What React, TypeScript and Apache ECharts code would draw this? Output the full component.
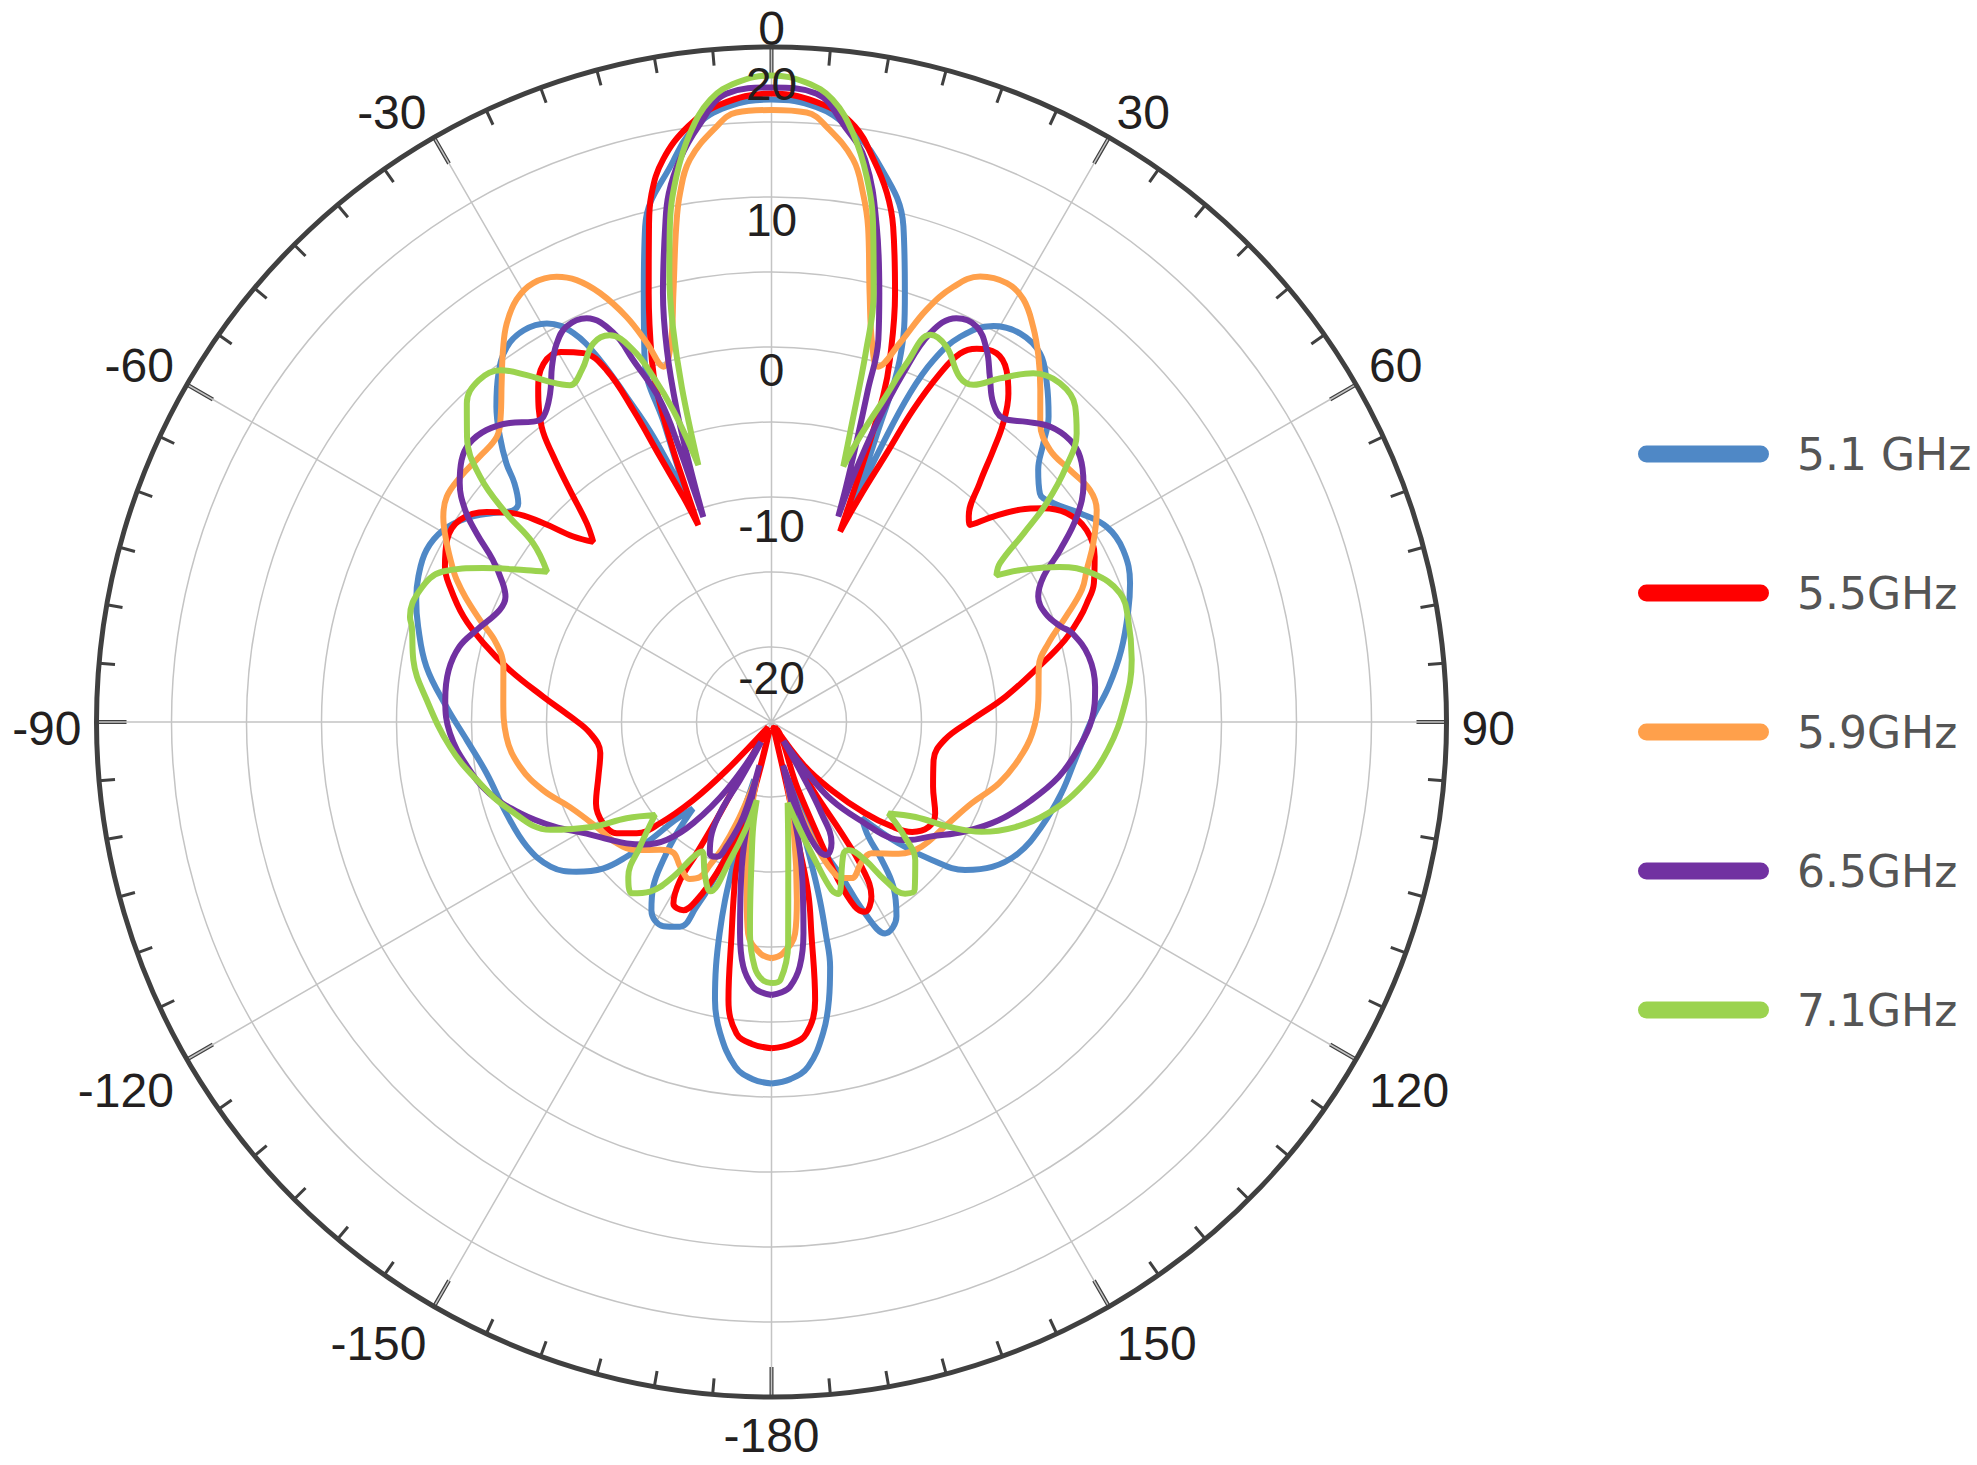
import React, { useEffect, useRef } from 'react';
import * as echarts from 'echarts';

// Series names and colours (legend order)
const seriesNames = ['5.1 GHz', '5.5GHz', '5.9GHz', '6.5GHz', '7.1GHz'];
const seriesColors = ['#4f88c6', '#ff0000', '#ffa04b', '#7131a1', '#9bd34f'];

// Each series: [angle in degrees (-180..180, clockwise from top), gain in dB]
const ghz51: [number, number][] = [
  [-180, -0.9], [-177, -1.15], [-174, -1.9], [-170.6, -4.0], [-168.5, -6.1], [-167.2, -8.3], [-166.2, -10.5], [-165.4, -12.7],
  [-165, -15], [-164.3, -18], [-163.2, -21], [-161.6, -16.2], [-159.8, -13.8], [-157.9, -11.7], [-155.9, -10.05],
  [-152.1, -9.6], [-147.5, -10.1], [-144.3, -11.5], [-141.9, -13.3], [-139.6, -15.25], [-137.8, -17.2],
  [-135.5, -15.8], [-134.2, -13.7], [-132.9, -11.8], [-131, -10.1], [-127.5, -8.6], [-123.2, -7.4], [-117, -6.7],
  [-109, -6.3], [-100.2, -5.7], [-93.4, -4.65], [-87.3, -3.3], [-80.9, -1.7], [-74.9, -0.6], [-71, 0.05],
  [-67.6, 0.46], [-63.5, 0.7], [-59.7, 0.35], [-56.2, -0.56], [-53.1, -1.8], [-51.2, -2.6], [-49.2, -2.7],
  [-47.1, -1.6], [-45.7, -0.3], [-43.6, 1.25], [-41.1, 2.9], [-38.1, 4.5], [-35.2, 5.6], [-32.3, 5.9],
  [-29.4, 5.5], [-27, 4.1], [-25.35, 1.7], [-24, -1.3], [-22.5, -4.4], [-20.6, -9.5], [-20.2, -7], [-19.8, -4],
  [-19.3, 0.6], [-16.6, 4.8], [-14.3, 9.1], [-9.9, 13.0], [-7.3, 15], [-4.2, 16.1], [0, 16.5],
  [4.2, 16.1], [7.3, 15], [10.6, 13.1], [14.9, 9.2], [17.3, 4.9], [19.5, 0.6], [20.1, -4.3], [20.6, -9.5],
  [21.8, -5], [22.85, -1.2], [24.1, 1.4], [26.1, 3.6], [29.25, 5.26], [32.6, 5.75], [36.1, 5.4], [39.1, 4.1],
  [42.2, 2.5], [44.3, 0.95], [46.6, -0.53], [49.6, -1.5], [52.2, -1.2], [55.9, -0.17], [59.8, 0.86],
  [63.95, 1.1], [68.85, 0.63], [72.6, -0.07], [78.4, -1.2], [84, -2.4], [89.6, -3.65], [97.1, -4.6],
  [103.8, -5.1], [111.2, -5.7], [118, -6.36], [123.3, -7.4], [127.4, -8.76], [130.7, -10.9], [133.7, -13.3],
  [136.8, -16.2], [139.8, -15], [141.4, -13.2], [143.5, -11.35], [147.25, -9.6], [151.75, -9.0],
  [153.95, -10.8], [155.65, -13.7], [158.5, -16], [160.6, -17.6], [162.8, -21], [164.3, -15], [164.8, -12.7],
  [165.6, -10.5], [166.55, -8.2], [168.3, -6.1], [170.55, -4.0], [173.9, -1.9], [177, -1.15], [180, -0.9],
];

const ghz55: [number, number][] = [
  [-180, -3.25], [-176.5, -3.5], [-173.6, -4.1], [-171.2, -6.25], [-169.3, -10.7], [-167.5, -13.5], [-166.5, -15.1],
  [-166.2, -24.5], [-165.7, -20.1], [-163.1, -17], [-160.1, -14.3], [-157.2, -12.1], [-154.9, -11.15],
  [-151.6, -11.25], [-150, -12.8], [-150.3, -14.9], [-150.6, -17.5], [-150.2, -20.8], [-146, -24.6],
  [-137, -20.6], [-134.9, -17.6], [-132.25, -14.96], [-129.5, -13.35], [-125.7, -12.3], [-121, -11.9],
  [-114.9, -12.1], [-107.5, -12.9], [-100.3, -13.4], [-93.6, -12.9], [-88.5, -11.6], [-83.7, -9.7],
  [-78.75, -7.2], [-74.7, -5.1], [-71.1, -3.3], [-67.2, -1.75], [-64.6, -0.9], [-60.7, -0.2], [-57, -0.25],
  [-53.6, -1.4], [-51, -2.9], [-48.95, -4.8], [-46.9, -6.9], [-44.7, -8.1], [-42.9, -6.9], [-41, -4.5],
  [-39.4, -2.1], [-37.9, -0.05], [-35.1, 2.05], [-32.5, 3.3], [-29.7, 3.4], [-27, 2.6], [-25.1, 0.9],
  [-23.9, -2.25], [-22.8, -5.8], [-21.4, -8.9], [-20.4, -11], [-20.1, -8], [-19.8, -5.2], [-19.1, -1.6],
  [-18.3, 0.4], [-16, 4.7], [-13.9, 9], [-12.8, 11.1], [-10.9, 13.2], [-7.95, 15.1], [-4.8, 16.3], [0, 16.9],
  [4.8, 16.3], [7.95, 15.1], [10.3, 13.1], [12.3, 11.1], [13.8, 9], [16.1, 4.7], [18.1, 0.4], [18.9, -2],
  [19.4, -6], [19.8, -11.5], [21.4, -8.9], [23.2, -5.5], [24.4, -2.15], [25.8, 0.8], [27.1, 2.6], [28.8, 3.4],
  [31.4, 3.8], [33.75, 3.2], [35.8, 2], [37.8, 0.2], [39.2, -1.6], [41.1, -3.9], [43.8, -6], [45.2, -6.35],
  [47.2, -4.85], [49.5, -3.2], [51.8, -1.95], [54.7, -0.9], [58.65, -0.4], [62.9, -0.8], [66.7, -1.6],
  [69.4, -2.55], [71.3, -3.3], [74.4, -4.7], [78.3, -6.8], [83.8, -9.3], [89.4, -11.65], [95.9, -13.4],
  [103.2, -13.9], [111.8, -13.4], [119.2, -12.5], [123.7, -12.4], [128, -13.1], [131, -14.4], [134.3, -16.3],
  [138.5, -18.9], [143.1, -21.3], [146, -24.6], [148.6, -19.4], [147.8, -16.2], [148.1, -13.6], [150.2, -11.6],
  [153.8, -10.9], [155.7, -11.5], [157.1, -13.6], [157.8, -17], [158.5, -20.3], [161, -24.6], [165.5, -24.6],
  [166.7, -20.1], [167.5, -16.7], [167.9, -13.3], [169.3, -10.7], [171.1, -6.2], [173.6, -4.1], [176.5, -3.5], [180, -3.25],
];

const ghz59: [number, number][] = [
  [-180, -9.25], [-177.2, -9.56], [-173.7, -10.8], [-172.1, -13], [-168.5, -17.5], [-165, -21.2],
  [-163.2, -20], [-161, -17.9], [-158.9, -16.1], [-156.7, -14.6], [-155.2, -13.6], [-152.5, -13.2],
  [-147.7, -13.6], [-143.2, -14.1], [-138.9, -13.7], [-133.5, -12.6], [-128.1, -11.9], [-120.9, -11.4],
  [-112.8, -10.4], [-106.6, -9.1], [-100.1, -7.97], [-93.2, -7.3], [-85.3, -7.06], [-78.35, -6.75],
  [-74, -5.9], [-70.7, -4.4], [-67.9, -3], [-65.7, -1.97], [-64.5, -1.5], [-61.2, -0.3], [-58, 0.8],
  [-55.25, 1.35], [-51.8, 1.4], [-47.7, 1.3], [-43.9, 1.4], [-41.6, 2.2], [-38.5, 3.9], [-35.8, 5.6],
  [-33.6, 6.9], [-31.1, 7.9], [-28.5, 8.3], [-25.75, 7.96], [-23.8, 7.2], [-21.8, 5.8], [-19.7, 3.7],
  [-18.2, 1.6], [-16.9, -0.24], [-14.9, 1.1], [-12.9, 4.3], [-10.9, 8.6], [-9.8, 10.8], [-8.25, 12.9],
  [-5.3, 14.85], [-3.3, 15.7], [0, 15.8],
  [3.3, 15.7], [5.3, 14.85], [8.25, 12.9], [9.8, 10.8], [11.05, 8.6], [12.9, 4.3], [14.9, 1.1], [16.7, -0.27],
  [18.7, 1.66], [20.6, 4.35], [22.7, 6.45], [25.1, 7.8], [28.2, 8.2], [30.8, 7.8], [33.5, 6.6], [36.1, 5.2],
  [38.96, 3.5], [41.95, 1.8], [45.7, 0.95], [49.8, 1.04], [53.9, 1.27], [56.9, 0.88], [60.95, -0.46],
  [64.25, -1.67], [66.9, -2.5], [70.3, -4.15], [74.1, -5.8], [78.3, -6.8], [85.3, -7.15], [92.5, -7.6],
  [98.75, -8.35], [105.1, -9.3], [112.1, -10.6], [121.1, -11.5], [129.7, -12], [136, -12.8], [142.65, -14],
  [147.15, -13.9], [152.8, -13.3], [155.8, -13.6], [157.9, -14.35], [159.9, -15.9], [161.7, -17.9],
  [164.2, -20.1], [165, -21.2], [168.5, -17.5], [171.9, -13], [173.65, -10.8], [177.2, -9.56], [180, -9.25],
];

const ghz65: [number, number][] = [
  [-180, -6.8], [-178, -6.95], [-176, -7.3], [-173.4, -8.6], [-171.5, -10.8], [-168.4, -15.15], [-166, -19], [-164.5, -22],
  [-163.4, -18.4], [-160.2, -16.2], [-157.9, -15.3], [-154.9, -15.3], [-151.75, -16.6], [-150.4, -18.5],
  [-151.5, -20.6], [-152.5, -23.5], [-146.6, -19.6], [-142.3, -16.5], [-138.4, -14.5], [-133.8, -13.2],
  [-129.95, -12.4], [-126.2, -11.7], [-121.1, -10.6], [-115.6, -8.9], [-110, -7.2], [-104.2, -5.6],
  [-98.3, -4.5], [-92, -3.55], [-86.1, -3.2], [-80.9, -3.2], [-76.4, -3.6], [-72.7, -4.4], [-67.6, -5.4],
  [-64.8, -5.4], [-62.6, -4.8], [-59.8, -3.5], [-57.4, -1.67], [-55.3, -0.15], [-52.5, 1.2], [-49.8, 2.05],
  [-47.3, 2.4], [-44.3, 2.2], [-41.2, 1.5], [-38.4, 0.55], [-36.8, 0.4], [-34, 1.4], [-31.7, 2.85],
  [-29.6, 4], [-27.4, 4.7], [-24.6, 4.6], [-22.1, 3], [-20.9, 0.8], [-19.1, -2.3], [-18.6, -5.9],
  [-18.5, -8.7], [-18.4, -10.6], [-17.7, -7.1], [-16.9, -3.3], [-15.7, 0.77], [-14.2, 4.5], [-12.1, 8.8],
  [-11, 10.9], [-9.25, 13], [-7, 15], [-4.1, 17], [0, 17.3],
  [4.1, 17], [7, 15], [9.45, 13], [12, 8.75], [14.1, 4.5], [15.6, 1.5], [16.2, -2], [16.9, -5.5], [17.6, -8.6],
  [18, -10.6], [18.4, -7.8], [19.4, -3.9], [20.7, -0.15], [22.2, 3], [24.6, 4.6], [27.4, 4.7], [30.05, 3.65],
  [32.3, 2.24], [34.8, 0.9], [37.35, 0.47], [40.4, 1.27], [43.3, 2.06], [46.6, 2.37], [49.3, 2.13],
  [52.6, 1.18], [56.1, -0.48], [59.2, -2.6], [61.9, -4.45], [64.8, -5.35], [68.4, -5.35], [71.7, -4.7],
  [73.5, -4.1], [78.35, -3.4], [83.8, -3.3], [89.6, -3.65], [95.2, -4.5], [100.8, -5.5], [106.7, -6.9],
  [113.4, -8.5], [119.55, -10.2], [125.6, -11.9], [130.8, -12.95], [134.05, -13.85], [137.3, -15.8],
  [142.3, -18.4], [145.1, -21.1], [147.5, -23.5], [149.7, -21], [151.3, -18.1], [153.6, -16], [157.5, -15.4],
  [159.9, -15.9], [162.3, -17.7], [163.8, -21], [165, -22], [166.5, -18.5], [168.3, -15.1], [171.4, -10.75],
  [173.4, -8.6], [176, -7.3], [178, -6.95], [180, -6.8],
];

const ghz71: [number, number][] = [
  [-180, -7.6], [-178, -7.8], [-176.1, -8.6], [-174.2, -10.8], [-173.5, -12.4], [-171.8, -15.7],
  [-170.1, -17.9], [-169.3, -19.7], [-166.7, -17.8], [-163.3, -15.4], [-160.1, -13], [-156.7, -13.8],
  [-151.7, -15.2], [-149.9, -14.6], [-147.6, -12.8], [-144.4, -11.1], [-140.8, -10.26], [-137.2, -10.95],
  [-133.5, -12.9], [-128.6, -15.06], [-123.6, -13.4], [-120.4, -11.2], [-116, -8.6], [-108.6, -6.6],
  [-101.1, -4.97], [-94.4, -3.5], [-86.35, -1.97], [-80.2, -0.77], [-75.2, -0.2], [-73.8, 0.1],
  [-69.4, 0.03], [-65.4, -0.9], [-61.9, -3.2], [-58.2, -5.8], [-56.2, -7], [-53.1, -5.1], [-51.8, -2.5],
  [-49.9, 0.4], [-46.9, 2.8], [-43.7, 4.4], [-40.6, 5], [-37.6, 4.6], [-35.2, 3.3], [-33.1, 2.07],
  [-30.9, 1.17], [-28.3, 1.66], [-25.2, 2.9], [-22.7, 2.95], [-20.4, 1.45], [-18.9, -0.7], [-17.5, -3.2],
  [-16.3, -6.1], [-15.9, -7.2], [-15, -1.9], [-14, 2.2], [-12.9, 5.5], [-11.6, 8.7], [-9.9, 11.9],
  [-7.9, 14.6], [-5.6, 16.7], [-3.1, 17.7], [0, 18.1],
  [3.1, 17.7], [5.6, 16.7], [7.9, 14.6], [9.9, 11.9], [11.6, 8.7], [13.4, 4.4], [14.3, 0.5], [15.2, -5.05],
  [15.7, -7.3], [17.2, -5.1], [19.15, -2.3], [20.65, 0.55], [22.3, 2.9], [25, 2.6], [28.6, 1.2], [30.9, 1.2],
  [33.6, 2.5], [36.9, 4.07], [40.4, 4.66], [43.9, 4.2], [46.6, 3], [49.1, 1], [51.5, -1.57], [53.2, -4],
  [55.2, -6.45], [56.9, -7.1], [58.55, -5.6], [61.7, -3.2], [65.2, -1.4], [69.7, -0.23], [74, -0.26],
  [80.2, -0.63], [87, -1.4], [94.75, -2.5], [101.8, -3.9], [108.3, -5.6], [113.3, -7.3], [117.6, -9.2],
  [120.6, -11.3], [123.4, -13.5], [128, -15.1], [130.7, -13.3], [133.9, -11.7], [139.5, -10.3],
  [142.1, -10.5], [144.3, -12], [145.9, -13.9], [149, -15.05], [151.3, -15], [158.7, -12.7], [160.3, -13.1],
  [162.5, -15.35], [165.6, -17.8], [168.7, -19.5], [173.1, -15.7], [175.7, -10.2], [178, -7.8], [180, -7.6],
];

const seriesData = [ghz51, ghz55, ghz59, ghz65, ghz71];

// Radial axis (dB) and angular axis (degrees)
const radiusMin = -25;
const radiusMax = 20;
const radiusStep = 5;
const radiusLabelValues = [-20, -10, 0, 10, 20];
const angleMin = 0;
const angleMax = 360;
const angleStep = 30;

// polar data items are [radius, angle]; angles mapped to 0..360 for a clockwise axis with 0 at the top
const toPolar = (pts: [number, number][]) =>
  pts.map(([deg, db]) => [db, deg < 0 ? deg + 360 : deg]);

export default function App() {
  const ref = useRef<HTMLDivElement>(null);

  useEffect(() => {
    if (!ref.current) return;
    const chart = echarts.init(ref.current, undefined, { renderer: 'svg' });
    const labelColor = '#231f20';
    const gridColor = '#c4c4c4';
    const frameColor = '#404040';
    const rLabel = { fontSize: 46, color: labelColor, fontFamily: 'Liberation Sans' };
    const aLabel = { fontSize: 48, color: labelColor, fontFamily: 'Liberation Sans' };
    const polarBox = { center: [771.5, 722], radius: 675 };

    chart.setOption({
      animation: false,
      backgroundColor: '#ffffff',
      textStyle: { fontFamily: 'Liberation Sans' },
      // polar 0: grid, frame and curves; polar 1 (same place): radial labels drawn above the curves
      polar: [{ ...polarBox }, { ...polarBox }],
      angleAxis: [
        {
          polarIndex: 0,
          type: 'value',
          min: angleMin,
          max: angleMax,
          interval: angleStep,
          startAngle: 90,
          clockwise: true,
          axisLine: { show: true, lineStyle: { color: frameColor, width: 5 } },
          axisTick: { show: true, inside: true, length: 30, lineStyle: { color: frameColor, width: 4 } },
          minorTick: { show: true, splitNumber: 6, length: 16, lineStyle: { color: frameColor, width: 3 } },
          splitLine: { show: true, lineStyle: { color: gridColor, width: 1.5 } },
          axisLabel: {
            margin: 15,
            ...aLabel,
            lineHeight: 35,
            padding: [6, 0, -6, 0],
            formatter: (v: number) => (v === 0 ? '{top|0}' : String(v >= 180 ? v - 360 : v)),
            rich: {
              top: { ...aLabel, lineHeight: 20 },
            },
          },
        },
        {
          polarIndex: 1,
          type: 'value',
          min: angleMin,
          max: angleMax,
          interval: angleStep,
          startAngle: 90,
          clockwise: true,
          show: false,
        },
      ],
      radiusAxis: [
        {
          polarIndex: 0,
          type: 'value',
          min: radiusMin,
          max: radiusMax,
          interval: radiusStep,
          axisLine: { show: false },
          axisTick: { show: false },
          axisLabel: { show: false },
          splitLine: { show: true, lineStyle: { color: gridColor, width: 1.5 } },
        },
        {
          polarIndex: 1,
          type: 'value',
          min: radiusMin,
          max: radiusMax,
          interval: radiusStep,
          z: 5,
          axisLine: { show: false },
          axisTick: { show: false },
          splitLine: { show: false },
          axisLabel: {
            margin: 0,
            ...rLabel,
            align: 'center',
            verticalAlign: 'top',
            showMinLabel: false,
            hideOverlap: false,
            formatter: (v: number) => {
              if (!radiusLabelValues.includes(v)) return '';
              if (v === radiusMax) return `{top|${v}}`;
              if (v < 0) return `{low${v === -20 ? 2 : 1}|${v}}`;
              return String(v);
            },
            rich: {
              top: { ...rLabel, padding: [14, 0, 0, 0] },
              low1: { ...rLabel, padding: [6, 0, 0, 0] },
              low2: { ...rLabel, padding: [8, 0, 0, 0] },
            },
          },
        },
      ],
      legend: {
        orient: 'vertical',
        left: 1638,
        top: 432,
        padding: 0,
        itemGap: 95,
        itemWidth: 131,
        itemHeight: 17,
        icon: 'path://M8.5 0H122.5A8.5 8.5 0 0 1 122.5 17H8.5A8.5 8.5 0 0 1 8.5 0Z',
        itemStyle: { borderWidth: 0 },
        textStyle: {
          fontSize: 44,
          lineHeight: 44,
          color: '#555555',
          fontFamily: 'DejaVu Sans',
          padding: [0, 0, 0, 23],
        },
        data: seriesNames,
      },
      series: seriesData.map((pts, i) => ({
        name: seriesNames[i],
        type: 'line',
        coordinateSystem: 'polar',
        polarIndex: 0,
        data: toPolar(pts),
        showSymbol: false,
        symbol: 'none',
        smooth: 0.4,
        lineStyle: { color: seriesColors[i], width: 6 },
        itemStyle: { color: seriesColors[i] },
      })),
    });

    return () => chart.dispose();
  }, []);

  return (
    <div
      ref={ref}
      style={{ position: 'fixed', left: 0, top: 0, width: '100vw', height: '100vh', background: '#fff' }}
    />
  );
}
